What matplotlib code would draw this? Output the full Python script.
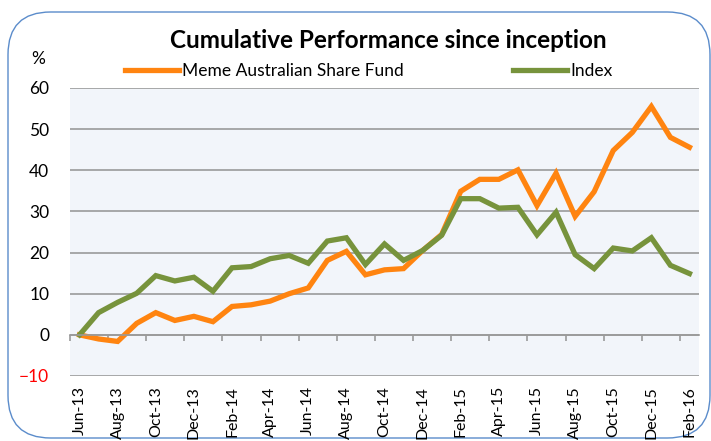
import matplotlib.pyplot as plt
from matplotlib.patches import FancyBboxPatch

plt.rcParams['font.family'] = ['Lato', 'DejaVu Sans']

months = ["Jun-13", "Jul-13", "Aug-13", "Sep-13", "Oct-13", "Nov-13", "Dec-13",
          "Jan-14", "Feb-14", "Mar-14", "Apr-14", "May-14", "Jun-14", "Jul-14",
          "Aug-14", "Sep-14", "Oct-14", "Nov-14", "Dec-14", "Jan-15", "Feb-15",
          "Mar-15", "Apr-15", "May-15", "Jun-15", "Jul-15", "Aug-15", "Sep-15",
          "Oct-15", "Nov-15", "Dec-15", "Jan-16", "Feb-16"]
fund = [0, -1.0, -1.6, 2.8, 5.4, 3.5, 4.5, 3.2, 6.9, 7.3, 8.2, 10.0, 11.4, 18.1,
        20.3, 14.6, 15.8, 16.1, 20.5, 24.4, 34.9, 37.8, 37.8, 40.1, 31.4, 39.3,
        28.8, 34.8, 44.8, 49.2, 55.5, 48.0, 45.6]
index = [0, 5.4, 7.9, 10.1, 14.4, 13.1, 14.0, 10.6, 16.3, 16.6, 18.5, 19.3, 17.4,
         22.8, 23.6, 17.1, 22.1, 18.1, 20.5, 24.2, 33.1, 33.1, 30.8, 31.0, 24.3,
         29.8, 19.5, 16.1, 21.1, 20.4, 23.6, 16.9, 14.9]
yticks = [-10, 0, 10, 20, 30, 40, 50, 60]

fig = plt.figure(figsize=(7.11, 4.41), dpi=100)
border = FancyBboxPatch((8 / 711, 3 / 441), 702 / 711, 426 / 441,
                        boxstyle="round,pad=0,rounding_size=0.06",
                        transform=fig.transFigure, facecolor="white",
                        edgecolor="#5B8CCB", linewidth=1.0, mutation_aspect=711 / 441,
                        zorder=-10)
fig.patches.append(border)

ax = fig.add_axes([70 / 711, 65 / 441, 629 / 711, 288 / 441])
ax.set_facecolor("#F2F5FA")
x = list(range(len(months)))
ax.plot(x, fund, color="#FF8410", lw=3.8, solid_joinstyle="miter", label="Meme Australian Share Fund")
ax.plot(x, index, color="#77933C", lw=3.8, solid_joinstyle="miter", label="Index")

ax.set_xlim(-0.5, len(months) - 0.5)
ax.set_ylim(-10, 60)
ax.set_yticks(yticks)
ax.yaxis.grid(True, color="#9A9A9A", lw=1.2)
ax.set_axisbelow(True)
ax.tick_params(axis="y", length=0, pad=15, labelsize=12.5)
ax.get_yticklabels()[0].set_color("red")

for s in ["left", "right", "top"]:
    ax.spines[s].set_visible(False)
ax.spines["bottom"].set_position(("data", 0))
ax.spines["bottom"].set_color("#9A9A9A")
ax.spines["bottom"].set_linewidth(1.2)

ax.set_xticks(x[::2])
ax.set_xticklabels(months[::2], rotation=90, fontsize=11.5)
ax.set_xticks([i - 0.5 for i in x[::2]], minor=True)
ax.tick_params(axis="x", which="major", length=0, pad=37)
ax.tick_params(axis="x", which="minor", length=4, color="#9A9A9A", width=1.2)

fig.text(388 / 711, 1 - 40 / 441, "Cumulative Performance since inception",
         ha="center", va="center", fontsize=17.5, fontweight="bold")
fig.text(38 / 711, 1 - 59 / 441, "%", ha="center", va="center", fontsize=12.5)
ax.legend(loc="lower left", bbox_to_anchor=(46 / 629, 1.0), ncol=2, frameon=False,
          fontsize=12.5, handlelength=3.1, handletextpad=0.2, columnspacing=6.3,
          borderaxespad=0.1)

fig.savefig("out.png", dpi=100)
